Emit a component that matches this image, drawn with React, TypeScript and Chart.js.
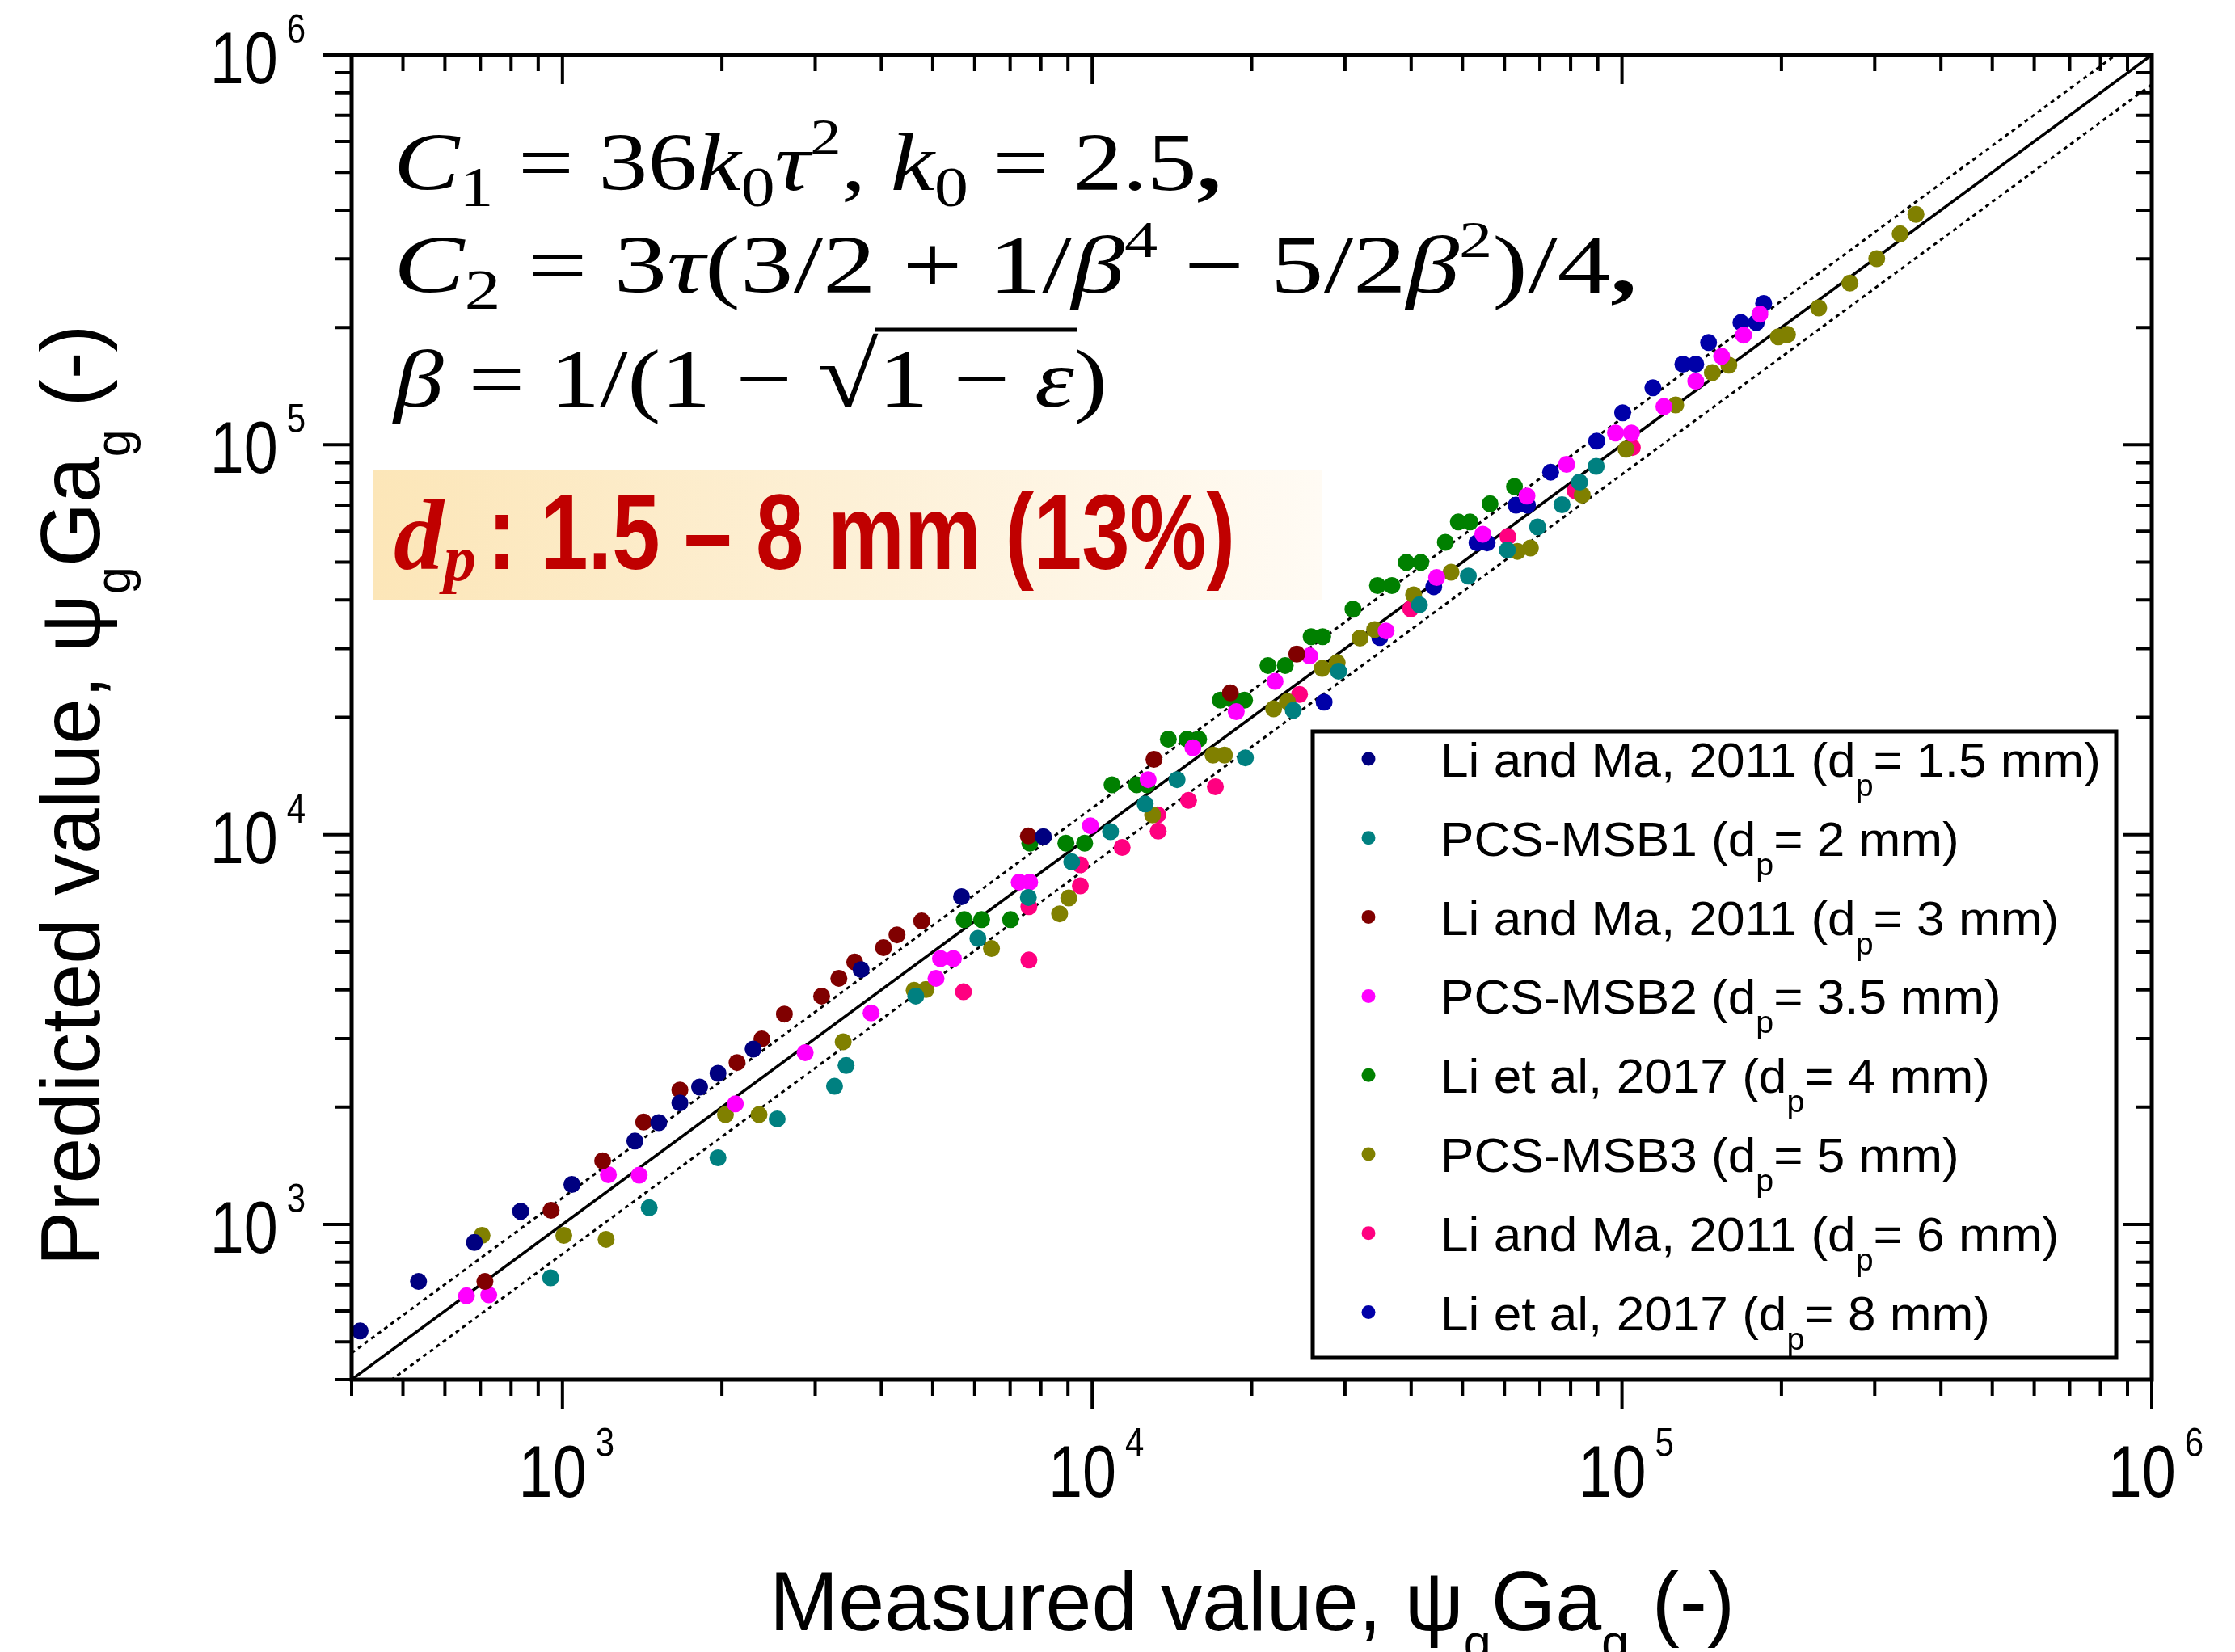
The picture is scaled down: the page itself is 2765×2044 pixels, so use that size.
import React, { useEffect, useRef } from 'react';
import { Chart, registerables } from 'chart.js';

Chart.register(...registerables);

type Pt = [number, number];

// ---- axis ranges and band ----
const X_MIN = 400;
const X_MAX = 1e6;
const Y_MIN = 400;
const Y_MAX = 1e6;
const UPPER_FACTOR = 1.17;
const LOWER_FACTOR = 0.84;

const decadeValues = [1e3, 1e4, 1e5, 1e6];
const decadeExponents = ['3', '4', '5', '6'];

// ---- series meta ----
const seriesNames = [
  'Li and Ma, 2011',
  'PCS-MSB1',
  'Li and Ma, 2011',
  'PCS-MSB2',
  'Li et al, 2017',
  'PCS-MSB3',
  'Li and Ma, 2011',
  'Li et al, 2017',
];
const seriesDp = ['1.5', '2', '3', '3.5', '4', '5', '6', '8'];
const seriesColors = ['#000080', '#008080', '#800000', '#FF00FF', '#008000', '#808000', '#FF0080', '#0000A8'];

// ---- data: [measured, predicted] ----
const liMa2011_d15: Pt[] = [
  [415, 533], [535, 714], [682, 899], [834, 1081], [1042, 1267], [1370, 1637], [1520, 1825],
  [1666, 2050], [1815, 2252], [1966, 2443], [2291, 2820], [3662, 4507], [5667, 6933], [8088, 9877],
];
const pcsMsb1_d2: Pt[] = [
  [950, 730], [1458, 1104], [1966, 1483], [2543, 1866], [3263, 2262], [3431, 2558], [4645, 3855],
  [6085, 5418], [7576, 6900], [9148, 8517], [10830, 10180], [12590, 11980], [14460, 13840],
  [19460, 15740], [23960, 20840], [29180, 26240], [41470, 38860], [51290, 46050], [60760, 53700],
  [69310, 61560], [77070, 70200], [83140, 80220], [89390, 88060],
];
const liMa2011_d3: Pt[] = [
  [714, 714], [952, 1087], [1191, 1457], [1423, 1831], [1666, 2213], [2136, 2603], [2379, 2993],
  [2624, 3466], [3085, 3854], [3325, 4281], [3562, 4712], [4037, 5132], [4281, 5534], [4766, 6003],
  [7576, 9924], [13080, 15600], [18230, 23110], [24330, 29060],
];
const pcsMsb2_d35: Pt[] = [
  [659, 656], [726, 660], [1221, 1342], [1396, 1338], [2120, 2039], [2872, 2760], [3825, 3489],
  [5072, 4281], [5171, 4810], [5470, 4810], [7281, 7557], [7621, 7557], [9922, 10540],
  [12750, 13840], [15490, 16700], [18700, 20670], [22140, 24720], [25730, 28730], [35870, 33310],
  [44690, 45660], [54620, 58990], [66170, 73880], [78610, 89130], [97230, 107200], [104200, 107200],
  [120000, 125300], [137800, 145600], [154200, 168700], [169600, 191100], [182100, 216400],
];
const liEtAl2017_d4: Pt[] = [
  [5735, 6053], [6185, 6053], [7012, 6053], [7626, 9510], [8920, 9510], [9676, 9510],
  [10900, 13430], [12130, 13430], [12670, 13430], [13920, 17580], [15110, 17580], [15880, 17580],
  [17450, 22140], [18460, 22140], [19390, 22140], [21470, 27160], [23140, 27160], [25900, 32200],
  [27230, 32200], [31060, 37870], [34560, 43550], [36790, 43550], [39170, 49930], [41720, 49930],
  [46410, 56250], [49110, 63390], [51640, 63390], [56360, 70580], [62680, 78160],
];
const pcsMsb3_d5: Pt[] = [
  [705, 938], [1006, 938], [1209, 916], [2031, 1914], [2350, 1914], [3388, 2943], [4612, 3987],
  [4856, 4006], [6455, 5105], [8679, 6264], [9031, 6878], [13000, 11240], [16910, 16000],
  [17770, 16000], [22000, 21020], [23360, 21940], [27170, 26700], [29000, 27630], [32030, 31930],
  [34130, 33590], [40430, 41240], [47570, 47100], [63480, 53300], [67170, 54360], [84140, 74270],
  [101800, 97450], [126300, 126500], [148100, 153200], [159100, 160100], [197300, 189200],
  [205300, 191900], [235100, 224400], [269300, 259900], [302600, 300300], [335000, 347700],
  [358800, 390000],
];
const liMa2011_d6: Pt[] = [
  [5715, 3953], [7594, 4769], [7594, 6538], [9497, 8371], [9497, 7389], [11390, 9273],
  [13290, 11240], [13320, 10210], [15200, 12240], [17080, 13270], [24620, 22890], [39920, 37970],
  [60910, 58180], [81580, 76250], [104600, 98440],
];
const liEtAl2017_d8: Pt[] = [
  [27400, 21870], [34900, 32030], [44130, 43250], [53260, 56050], [55650, 56050], [63100, 70000],
  [66330, 70000], [73340, 85100], [89600, 102200], [100300, 120800], [114400, 140000],
  [130300, 161100], [137800, 161100], [145700, 182900], [167700, 205900], [179300, 205900],
  [185100, 230400],
];
const allSeries = [
  liMa2011_d15, pcsMsb1_d2, liMa2011_d3, pcsMsb2_d35,
  liEtAl2017_d4, pcsMsb3_d5, liMa2011_d6, liEtAl2017_d8,
];

// ---- texts ----
const xTitleParts = ['Measured value, ψ', 'g', 'Ga', 'g', ' (-)'];
const yTitleParts = ['Predicted value, ψ', 'g', 'Ga', 'g', ' (-)'];
const highlightRest = ': 1.5 – 8 mm (13%)';

// ---- fonts ----
const SANS = '"Liberation Sans", Arial, Helvetica, sans-serif';
const SERIF = '"Liberation Serif", "Times New Roman", serif';

interface Seg { t: string; f: string; dy?: number; gap?: number }

function segsWidth(ctx: CanvasRenderingContext2D, segs: Seg[]) {
  let w = 0;
  for (const s of segs) {
    ctx.font = s.f;
    w += ctx.measureText(s.t).width + (s.gap || 0);
  }
  return w;
}

function drawSegs(
  ctx: CanvasRenderingContext2D,
  segs: Seg[],
  x: number,
  y: number,
  align: 'left' | 'center' | 'right',
  sx: number,
) {
  const w = segsWidth(ctx, segs) * sx;
  const x0 = align === 'left' ? x : align === 'center' ? x - w / 2 : x - w;
  const spans: [number, number][] = [];
  let cx = 0;
  ctx.save();
  ctx.textAlign = 'left';
  ctx.textBaseline = 'alphabetic';
  ctx.translate(x0, y);
  ctx.scale(sx, 1);
  for (const s of segs) {
    ctx.font = s.f;
    ctx.fillText(s.t, cx, s.dy || 0);
    const sw = ctx.measureText(s.t).width;
    spans.push([x0 + cx * sx, x0 + (cx + sw) * sx]);
    cx += sw + (s.gap || 0);
  }
  ctx.restore();
  return spans;
}

function fit(ctx: CanvasRenderingContext2D, segs: Seg[], target: number) {
  return target / segsWidth(ctx, segs);
}

const decorPlugin = {
  id: 'decor',
  beforeDraw(chart: any) {
    const ctx: CanvasRenderingContext2D = chart.ctx;
    ctx.save();
    ctx.fillStyle = '#ffffff';
    ctx.fillRect(0, 0, chart.width, chart.height);
    ctx.restore();
  },
  beforeDatasetsDraw(chart: any) {
    const ctx: CanvasRenderingContext2D = chart.ctx;
    ctx.save();
    // highlight box
    const g = ctx.createLinearGradient(462, 0, 1635, 0);
    g.addColorStop(0, '#FCE6B8');
    g.addColorStop(0.5, '#FDF0D6');
    g.addColorStop(1, '#FFFBF4');
    ctx.fillStyle = g;
    ctx.fillRect(462, 582, 1173, 160);

    ctx.fillStyle = '#C00000';
    drawSegs(ctx, [
      { t: 'd', f: `italic bold 124px ${SERIF}` },
      { t: 'p', f: `italic bold 80px ${SERIF}`, dy: 14 },
    ], 487, 704, 'left', 1);
    const rest: Seg[] = [{ t: highlightRest, f: `bold 132px ${SANS}` }];
    drawSegs(ctx, rest, 603, 704, 'left', fit(ctx, rest, 925));

    // equations
    ctx.fillStyle = '#000';
    const I = `italic 102px ${SERIF}`;
    const N = `102px ${SERIF}`;
    const B = `bold 102px ${SERIF}`;
    const SUB = `70px ${SERIF}`;
    const SUP = `64px ${SERIF}`;
    const l1: Seg[] = [
      { t: 'C', f: I }, { t: '1', f: SUB, dy: 20 }, { t: ' = 36', f: N }, { t: 'k', f: I },
      { t: '0', f: SUB, dy: 20 }, { t: 'τ', f: I }, { t: '2', f: SUP, dy: -44 }, { t: ', ', f: N },
      { t: 'k', f: I }, { t: '0', f: SUB, dy: 20 }, { t: ' = 2.5', f: N }, { t: ',', f: B },
    ];
    drawSegs(ctx, l1, 487, 235, 'left', fit(ctx, l1, 1024));
    const l2: Seg[] = [
      { t: 'C', f: I }, { t: '2', f: SUB, dy: 20 }, { t: ' = 3', f: N }, { t: 'τ', f: I },
      { t: '(3/2 + 1/', f: N }, { t: 'β', f: I }, { t: '4', f: SUP, dy: -44 }, { t: ' − 5/2', f: N },
      { t: 'β', f: I }, { t: '2', f: SUP, dy: -44 }, { t: ')/4', f: N }, { t: ',', f: B },
    ];
    drawSegs(ctx, l2, 487, 362, 'left', fit(ctx, l2, 1538));
    const l3: Seg[] = [
      { t: 'β', f: I }, { t: ' = 1/(1 − ', f: N }, { t: '√', f: `114px ${SERIF}` },
      { t: '1 − ', f: N }, { t: 'ε', f: I }, { t: ')', f: N },
    ];
    const sp = drawSegs(ctx, l3, 487, 503, 'left', fit(ctx, l3, 883));
    ctx.strokeStyle = '#000';
    ctx.lineWidth = 5;
    ctx.beginPath();
    ctx.moveTo(sp[2][1] - 4, 408);
    ctx.lineTo(sp[4][1] + 4, 408);
    ctx.stroke();
    ctx.restore();
  },
  afterDatasetsDraw(chart: any) {
    const ctx: CanvasRenderingContext2D = chart.ctx;
    const { left, right, top, bottom } = chart.chartArea;
    const xs = chart.scales.x;
    const ys = chart.scales.y;
    ctx.save();
    // frame
    ctx.strokeStyle = '#000';
    ctx.lineWidth = 5;
    ctx.strokeRect(left, top, right - left, bottom - top);
    // ticks
    ctx.lineWidth = 4;
    ctx.beginPath();
    for (let e = 2; e <= 6; e++) {
      for (let m = 1; m <= 9; m++) {
        const v = m * Math.pow(10, e);
        if (v < X_MIN - 1e-6 || v > X_MAX + 1e-6) continue;
        const len = m === 1 ? 36 : 20;
        const px = xs.getPixelForValue(v);
        ctx.moveTo(px, bottom); ctx.lineTo(px, bottom + len);
        ctx.moveTo(px, top); ctx.lineTo(px, top + len);
        const py = ys.getPixelForValue(v);
        ctx.moveTo(left, py); ctx.lineTo(left - len, py);
        ctx.moveTo(right, py); ctx.lineTo(right - len, py);
      }
    }
    ctx.stroke();

    // tick labels
    ctx.fillStyle = '#000';
    const LF = `90px ${SANS}`;
    const SF = `50px ${SANS}`;
    decadeValues.forEach((v, i) => {
      const segs: Seg[] = [
        { t: '10', f: LF, gap: 13 },
        { t: decadeExponents[i], f: SF, dy: -50 },
      ];
      const px = xs.getPixelForValue(v);
      drawSegs(ctx, segs, px + 5, bottom + 145, 'center', 0.84);
      const py = ys.getPixelForValue(v);
      drawSegs(ctx, segs, left - 57, py + 35, 'right', 0.84);
    });

    // axis titles
    const TF = `104px ${SANS}`;
    const TS = `62px ${SANS}`;
    const xt: Seg[] = [
      { t: xTitleParts[0], f: TF }, { t: xTitleParts[1], f: TS, dy: 36 },
      { t: xTitleParts[2], f: TF }, { t: xTitleParts[3], f: TS, dy: 36 },
      { t: xTitleParts[4], f: TF },
    ];
    drawSegs(ctx, xt, 1549, 2017, 'center', fit(ctx, xt, 1194));
    const yt: Seg[] = [
      { t: yTitleParts[0], f: TF }, { t: yTitleParts[1], f: TS, dy: 38 },
      { t: yTitleParts[2], f: TF }, { t: yTitleParts[3], f: TS, dy: 38 },
      { t: yTitleParts[4], f: TF },
    ];
    ctx.save();
    ctx.translate(123, 984);
    ctx.rotate(-Math.PI / 2);
    drawSegs(ctx, yt, 0, 0, 'center', fit(ctx, yt, 1165));
    ctx.restore();

    // legend
    const LX = 1624, LY = 905, LW = 994, LH = 775;
    ctx.fillStyle = '#fff';
    ctx.fillRect(LX, LY, LW, LH);
    ctx.strokeStyle = '#000';
    ctx.lineWidth = 5;
    ctx.strokeRect(LX, LY, LW, LH);
    const legSegs = (i: number): Seg[] => [
      { t: `${seriesNames[i]} (d`, f: `60px ${SANS}` },
      { t: 'p', f: `38px ${SANS}`, dy: 24 },
      { t: `= ${seriesDp[i]} mm)`, f: `60px ${SANS}` },
    ];
    const lsx = fit(ctx, legSegs(0), 817);
    for (let i = 0; i < seriesNames.length; i++) {
      const cy = 939 + i * 97.8;
      ctx.fillStyle = seriesColors[i];
      ctx.beginPath();
      ctx.arc(1693, cy, 8.5, 0, Math.PI * 2);
      ctx.fill();
      ctx.fillStyle = '#000';
      drawSegs(ctx, legSegs(i), 1782, cy + 22, 'left', lsx);
    }
    ctx.restore();
  },
};

export default function App() {
  const ref = useRef<HTMLCanvasElement>(null);
  useEffect(() => {
    const canvas = ref.current;
    if (!canvas) return;
    const datasets: any[] = [];
    allSeries.forEach((pts, i) => {
      datasets.push({
        label: `${seriesNames[i]} (dp= ${seriesDp[i]} mm)`,
        data: pts.map(([x, y]) => ({ x, y })),
        backgroundColor: seriesColors[i],
        borderColor: seriesColors[i],
        borderWidth: 0,
        pointRadius: 10.5,
        pointHoverRadius: 10.5,
        pointStyle: 'circle',
        showLine: false,
        order: 1,
      });
    });
    const bandLine = (f: number, dashed: boolean) => ({
      label: dashed ? 'band' : 'parity',
      data: [{ x: X_MIN, y: X_MIN * f }, { x: X_MAX, y: X_MAX * f }],
      showLine: true,
      borderColor: '#000',
      backgroundColor: '#000',
      borderWidth: dashed ? 3 : 3.5,
      borderDash: dashed ? [5, 5] : [],
      pointRadius: 0,
      fill: false,
      order: 10,
    });
    datasets.push(bandLine(1, false));
    datasets.push(bandLine(UPPER_FACTOR, true));
    datasets.push(bandLine(LOWER_FACTOR, true));

    const chart = new Chart(canvas, {
      type: 'scatter',
      data: { datasets },
      options: {
        animation: false,
        responsive: false,
        devicePixelRatio: 1,
        events: [],
        layout: { padding: { left: 435, right: 103, top: 68, bottom: 337 } },
        scales: {
          x: { type: 'logarithmic', min: X_MIN, max: X_MAX, display: false },
          y: { type: 'logarithmic', min: Y_MIN, max: Y_MAX, display: false },
        },
        plugins: { legend: { display: false }, tooltip: { enabled: false } },
      } as any,
      plugins: [decorPlugin as any],
    });
    return () => chart.destroy();
  }, []);
  return (
    <div style={{ position: 'absolute', left: 0, top: 0, width: 2765, height: 2044 }}>
      <canvas ref={ref} width={2765} height={2044} style={{ display: 'block', width: '2765px', height: '2044px' }} />
    </div>
  );
}
